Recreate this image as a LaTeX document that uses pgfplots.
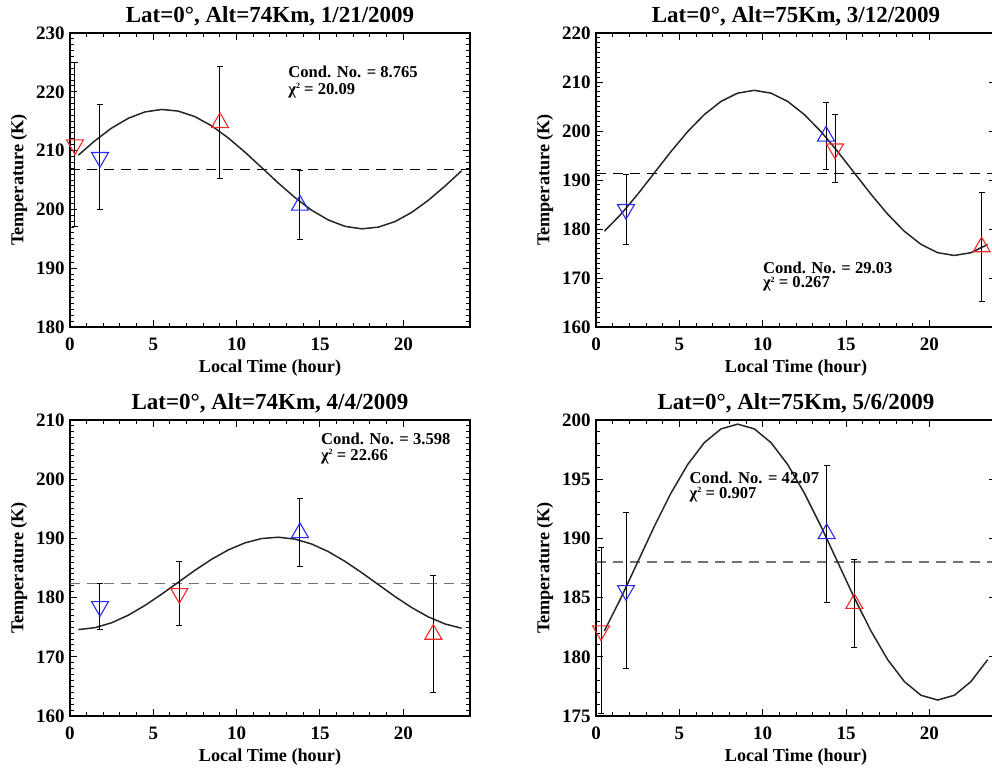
\documentclass[border=0pt]{standalone}
\usepackage{fontspec}
\setmainfont{Liberation Serif}
\usepackage{pgfplots}
\pgfplotsset{compat=1.18}
\definecolor{mkred}{RGB}{240,40,40}
\definecolor{mkblue}{RGB}{40,40,240}
\newcommand{\chisq}{χ\raisebox{0.75ex}{\fontsize{4}{4}\selectfont 2}}
\tikzset{annot/.style={anchor=base west, inner sep=0pt, font=\bfseries\fontsize{8.3}{9}\selectfont}}
\pgfplotsset{
  every axis title/.style={at={(0.5,1)}, anchor=base, yshift=5.5pt, font=\bfseries\fontsize{11.5}{13}\selectfont},
  panel/.style={
    scale only axis, width=200pt,
    xmin=0, xmax=24, xtick={0,5,10,15,20}, minor x tick num=4,
    clip=false,
    axis line style={line width=0.6pt},
    major tick length=3.5pt, minor tick length=2pt,
    every tick/.style={black, line width=0.5pt},
    /pgf/number format/assume math mode=true,
    tick label style={font=\bfseries\fontsize{9.5}{11}\selectfont},
    xticklabel style={anchor=base, yshift=-11.8pt},
    yticklabel style={anchor=east, inner sep=0pt, xshift=-2.5pt},
    xlabel style={at={(axis description cs:0.5,0)}, anchor=base, yshift=-22.5pt, font=\bfseries\fontsize{9.1}{11}\selectfont},
    ylabel style={at={([xshift=-25.5pt]axis description cs:0,0.5)}, anchor=center, font=\bfseries\fontsize{9.1}{11}\selectfont},
    xlabel={Local Time (hour)}, ylabel={Temperature (K)},
  },
  fitcurve/.style={black!85, line width=0.75pt, mark=none},
  meanline/.style={line width=0.6pt, dash pattern=on 5pt off 3.5pt, mark=none},
  pt/.style={only marks, mark=triangle, mark size=4.9pt,
    error bars/.cd, y dir=both, y explicit,
    error bar style={black, line width=0.5pt},
    error mark options={rotate=90, black, mark size=1.5pt, line width=0.5pt}},
  ru/.style={mark options={mkred, line width=0.55pt, fill=none}, pt},
  rd/.style={mark options={mkred, line width=0.55pt, fill=none, rotate=180}, pt},
  bu/.style={mark options={mkblue, line width=0.55pt, fill=none}, pt},
  bd/.style={mark options={mkblue, line width=0.55pt, fill=none, rotate=180}, pt},
}
\begin{document}
\begin{tikzpicture}
% ---------- Panel 1 ----------
\begin{axis}[panel, height=147pt, at={(35pt,-16.5pt)}, anchor=north west,
  ymin=180, ymax=230, ytick={180,190,200,210,220,230}, minor y tick num=9,
  title={Lat=0°, Alt=74Km, 1/21/2009}]
\addplot[meanline, black] coordinates {(0,206.8) (24,206.8)};
\addplot[fitcurve] coordinates {
(0.5,209.22)(1.5,211.69)(2.5,213.84)(3.5,215.50)(4.5,216.58)(5.5,217.00)
(6.5,216.72)(7.5,215.77)(8.5,214.21)(9.5,212.15)(10.5,209.73)(11.5,207.12)
(12.5,204.48)(13.5,202.01)(14.5,199.86)(15.5,198.20)(16.5,197.12)(17.5,196.70)
(18.5,196.98)(19.5,197.93)(20.5,199.49)(21.5,201.55)(22.5,203.97)(23.5,206.58)};
\addplot[rd] coordinates {(0.3,211.0) +- (0,13.9)};
\addplot[bd] coordinates {(1.8,208.85) +- (0,8.95)};
\addplot[ru] coordinates {(9.0,214.75) +- (0,9.55)};
\addplot[bu] coordinates {(13.8,200.7) +- (0,5.9)};
\node[annot] at (axis cs:13.08,222.35) {Cond. No. = 8.765};
\node[annot] at (axis cs:13.08,219.6) {\chisq{} = 20.09};
\end{axis}
% ---------- Panel 2 ----------
\begin{axis}[panel, height=147pt, at={(298pt,-16.5pt)}, anchor=north west,
  ymin=160, ymax=220, ytick={160,170,180,190,200,210,220}, minor y tick num=9,
  title={Lat=0°, Alt=75Km, 3/12/2009}]
\addplot[meanline, black] coordinates {(0,191.4) (24,191.4)};
\addplot[fitcurve] coordinates {
(0.5,179.54)(1.5,183.03)(2.5,187.09)(3.5,191.45)(4.5,195.81)(5.5,199.88)
(6.5,203.36)(7.5,206.04)(8.5,207.73)(9.5,208.30)(10.5,207.73)(11.5,206.04)
(12.5,203.36)(13.5,199.88)(14.5,195.81)(15.5,191.45)(16.5,187.09)(17.5,183.03)
(18.5,179.54)(19.5,176.86)(20.5,175.17)(21.5,174.60)(22.5,175.17)(23.5,176.86)};
\addplot[bd] coordinates {(1.8,184.0) +- (0,7.1)};
\addplot[bu] coordinates {(13.8,198.95) +- (0,6.85)};
\addplot[rd] coordinates {(14.34,196.35) +- (0,6.95)};
\addplot[ru] coordinates {(23.14,176.35) +- (0,11.1)};
\node[annot] at (axis cs:10.0,171.0) {Cond. No. = 29.03};
\node[annot] at (axis cs:10.0,168.0) {\chisq{} = 0.267};
\end{axis}
% ---------- Panel 3 ----------
\begin{axis}[panel, height=148pt, at={(35pt,-210pt)}, anchor=north west,
  ymin=160, ymax=210, ytick={160,170,180,190,200,210}, minor y tick num=9,
  title={Lat=0°, Alt=74Km, 4/4/2009}]
\addplot[meanline, black!55] coordinates {(0,182.4) (24,182.4)};
\addplot[fitcurve] coordinates {
(0.5,174.60)(1.5,174.92)(2.5,175.75)(3.5,177.03)(4.5,178.68)(5.5,180.58)
(6.5,182.60)(7.5,184.62)(8.5,186.48)(9.5,188.06)(10.5,189.25)(11.5,189.98)
(12.5,190.20)(13.5,189.88)(14.5,189.05)(15.5,187.77)(16.5,186.12)(17.5,184.22)
(18.5,182.20)(19.5,180.18)(20.5,178.32)(21.5,176.74)(22.5,175.55)(23.5,174.82)};
\addplot[bd] coordinates {(1.8,178.5) +- (0,3.9)};
\addplot[rd] coordinates {(6.56,180.7) +- (0,5.4)};
\addplot[bu] coordinates {(13.8,190.95) +- (0,5.75)};
\addplot[ru] coordinates {(21.8,173.8) +- (0,9.9)};
\node[annot] at (axis cs:15.04,205.9) {Cond. No. = 3.598};
\node[annot] at (axis cs:15.04,203.2) {\chisq{} = 22.66};
\end{axis}
% ---------- Panel 4 ----------
\begin{axis}[panel, height=148pt, at={(298pt,-210pt)}, anchor=north west,
  ymin=175, ymax=200, ytick={175,180,185,190,195,200}, minor y tick num=4,
  title={Lat=0°, Alt=75Km, 5/6/2009}]
\addplot[meanline, black!55] coordinates {(0,188.0) (24,188.0)};
\addplot[fitcurve] coordinates {
(0.5,182.18)(1.5,184.98)(2.5,188.00)(3.5,191.02)(4.5,193.83)(5.5,196.24)
(6.5,198.09)(7.5,199.25)(8.5,199.65)(9.5,199.25)(10.5,198.09)(11.5,196.24)
(12.5,193.83)(13.5,191.02)(14.5,188.00)(15.5,184.98)(16.5,182.18)(17.5,179.76)
(18.5,177.91)(19.5,176.75)(20.5,176.35)(21.5,176.75)(22.5,177.91)(23.5,179.76)};
\addplot[rd] coordinates {(0.3,182.2) +- (0,7.0)};
\addplot[bd] coordinates {(1.8,185.6) +- (0,6.6)};
\addplot[bu] coordinates {(13.84,190.4) +- (0,5.8)};
\addplot[ru] coordinates {(15.5,184.5) +- (0,3.7)};
\node[annot] at (axis cs:5.6,194.65) {Cond. No. = 42.07};
\node[annot] at (axis cs:5.6,193.4) {\chisq{} = 0.907};
\end{axis}
\pgfresetboundingbox
\useasboundingbox (0,0) rectangle (496pt,-384pt);
\end{tikzpicture}
\end{document}
